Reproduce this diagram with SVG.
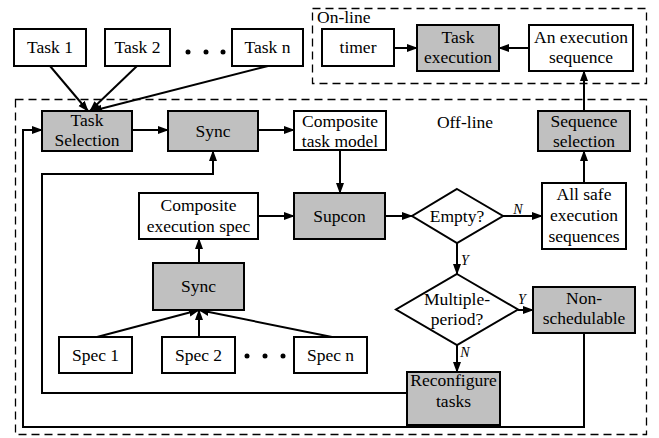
<svg xmlns="http://www.w3.org/2000/svg" width="659" height="438" viewBox="0 0 659 438">
  <defs>
    <marker id="arrow" markerUnits="userSpaceOnUse" markerWidth="11" markerHeight="9" refX="10" refY="4" orient="auto">
      <path d="M0,0 L11,4 L0,8 z" fill="#000"/>
    </marker>
  </defs>
  <style>
    .box { fill: #fff; stroke: #000; stroke-width: 2; }
    .gray { fill: #c0c0c0; stroke: #000; stroke-width: 2; }
    .frame { fill: none; stroke: #000; stroke-width: 1.3; stroke-dasharray: 8 5; }
    .arr { fill: none; stroke: #000; stroke-width: 2; marker-end: url(#arrow); }
    .t { font-family: "Liberation Serif", "Times New Roman", serif; font-size: 17.5px; fill: #000; text-anchor: middle; }
    .lbl { font-family: "Liberation Serif", "Times New Roman", serif; font-size: 14px; font-style: italic; fill: #000; text-anchor: middle; }
    .dot { fill: #000; }
  </style>

  <rect width="659" height="438" fill="#fff"/>

  <!-- frames -->
  <g id="online-frame">
    <rect class="frame" x="312.5" y="8.5" width="334" height="75"/>
    <text class="t" x="317" y="23" style="text-anchor:start">On-line</text>
  </g>
  <g id="offline-frame">
    <rect class="frame" x="15.5" y="99.5" width="631" height="335"/>
    <text class="t" x="465" y="128">Off-line</text>
  </g>

  <!-- connectors -->
  <g id="connectors">
    <line class="arr" x1="50" y1="66" x2="88" y2="111"/>
    <line class="arr" x1="137" y1="66" x2="90" y2="111"/>
    <line class="arr" x1="268" y1="66" x2="92" y2="111"/>
    <line class="arr" x1="132" y1="130" x2="168" y2="130"/>
    <line class="arr" x1="258" y1="130" x2="294" y2="130"/>
    <line class="arr" x1="340" y1="150" x2="340" y2="193"/>
    <line class="arr" x1="258" y1="216" x2="294" y2="216"/>
    <line class="arr" x1="385" y1="216" x2="412" y2="216"/>
    <line class="arr" x1="503" y1="216" x2="542" y2="216"/>
    <line class="arr" x1="584" y1="183" x2="584" y2="151"/>
    <line class="arr" x1="584" y1="111" x2="584" y2="71"/>
    <line class="arr" x1="529" y1="48" x2="499" y2="48"/>
    <line class="arr" x1="394" y1="48" x2="417" y2="48"/>
    <line class="arr" x1="457" y1="243" x2="457" y2="274"/>
    <line class="arr" x1="518" y1="310" x2="533" y2="310"/>
    <line class="arr" x1="457" y1="345" x2="457" y2="372"/>
    <line class="arr" x1="199" y1="263" x2="199" y2="239"/>
    <line class="arr" x1="97" y1="337" x2="199" y2="310"/>
    <line class="arr" x1="199" y1="337" x2="199" y2="310"/>
    <line class="arr" x1="332" y1="337" x2="199" y2="310"/>
    <polyline class="arr" points="407,393 42,393 42,174 213,174 213,151"/>
    <polyline class="arr" points="584,333 584,427 23,427 23,130 42,130"/>
    <text class="lbl" x="518" y="214">N</text>
    <text class="lbl" x="465" y="265">Y</text>
    <text class="lbl" x="522" y="304">Y</text>
    <text class="lbl" x="465" y="357">N</text>
  </g>

  <!-- task inputs -->
  <g id="task1"><rect class="box" x="14" y="29" width="72" height="37"/><text class="t" x="50" y="53">Task 1</text></g>
  <g id="task2"><rect class="box" x="105" y="29" width="65" height="37"/><text class="t" x="137.5" y="53">Task 2</text></g>
  <g id="task-dots"><circle class="dot" cx="188" cy="52" r="2.5"/><circle class="dot" cx="206" cy="52" r="2.5"/><circle class="dot" cx="223" cy="52" r="2.5"/></g>
  <g id="taskn"><rect class="box" x="232" y="29" width="71" height="37"/><text class="t" x="267.5" y="53">Task n</text></g>

  <!-- on-line part -->
  <g id="timer"><rect class="box" x="322" y="29" width="72" height="37"/><text class="t" x="358" y="53">timer</text></g>
  <g id="task-execution"><rect class="gray" x="417" y="25" width="82" height="46"/><text class="t" x="458" y="43">Task</text><text class="t" x="458" y="63">execution</text></g>
  <g id="execution-sequence"><rect class="box" x="529" y="25" width="104" height="46"/><text class="t" x="581" y="43">An execution</text><text class="t" x="581" y="63">sequence</text></g>

  <!-- off-line part -->
  <g id="task-selection"><rect class="gray" x="42" y="111" width="90" height="40"/><text class="t" x="87" y="126">Task</text><text class="t" x="87" y="146">Selection</text></g>
  <g id="sync-tasks"><rect class="gray" x="168" y="111" width="90" height="40"/><text class="t" x="213" y="137">Sync</text></g>
  <g id="composite-task-model"><rect class="box" x="294" y="111" width="92" height="39"/><text class="t" x="340" y="127">Composite</text><text class="t" x="340" y="147">task model</text></g>
  <g id="sequence-selection"><rect class="gray" x="538" y="111" width="92" height="40"/><text class="t" x="584" y="127">Sequence</text><text class="t" x="584" y="147">selection</text></g>
  <g id="composite-execution-spec"><rect class="box" x="139" y="193" width="119" height="46"/><text class="t" x="198.5" y="211">Composite</text><text class="t" x="198.5" y="232">execution spec</text></g>
  <g id="supcon"><rect class="gray" x="294" y="193" width="91" height="46"/><text class="t" x="339.5" y="222">Supcon</text></g>
  <g id="empty"><polygon class="box" points="457,189 503,216 457,243 412,216"/><text class="t" x="457" y="222">Empty?</text></g>
  <g id="all-safe"><rect class="box" x="542" y="183" width="84" height="66"/><text class="t" x="584" y="200">All safe</text><text class="t" x="584" y="221">execution</text><text class="t" x="584" y="242">sequences</text></g>
  <g id="sync-specs"><rect class="gray" x="153" y="263" width="91" height="47"/><text class="t" x="198.5" y="292">Sync</text></g>
  <g id="multiple-period"><polygon class="box" points="457,274 518,309.5 457,345 396,309.5"/><text class="t" x="457" y="305">Multiple-</text><text class="t" x="457" y="325">period?</text></g>
  <g id="non-schedulable"><rect class="gray" x="533" y="287" width="102" height="46"/><text class="t" x="584" y="304">Non-</text><text class="t" x="584" y="324">schedulable</text></g>
  <g id="spec1"><rect class="box" x="59" y="337" width="73" height="36"/><text class="t" x="95.5" y="361">Spec 1</text></g>
  <g id="spec2"><rect class="box" x="162" y="337" width="73" height="36"/><text class="t" x="198.5" y="361">Spec 2</text></g>
  <g id="spec-dots"><circle class="dot" cx="247" cy="356" r="2.5"/><circle class="dot" cx="265" cy="356" r="2.5"/><circle class="dot" cx="283" cy="356" r="2.5"/></g>
  <g id="specn"><rect class="box" x="294" y="337" width="73" height="36"/><text class="t" x="330.5" y="361">Spec n</text></g>
  <g id="reconfigure"><rect class="gray" x="407" y="372" width="93" height="53"/><text class="t" x="453.5" y="386">Reconfigure</text><text class="t" x="453.5" y="407">tasks</text></g>
</svg>
